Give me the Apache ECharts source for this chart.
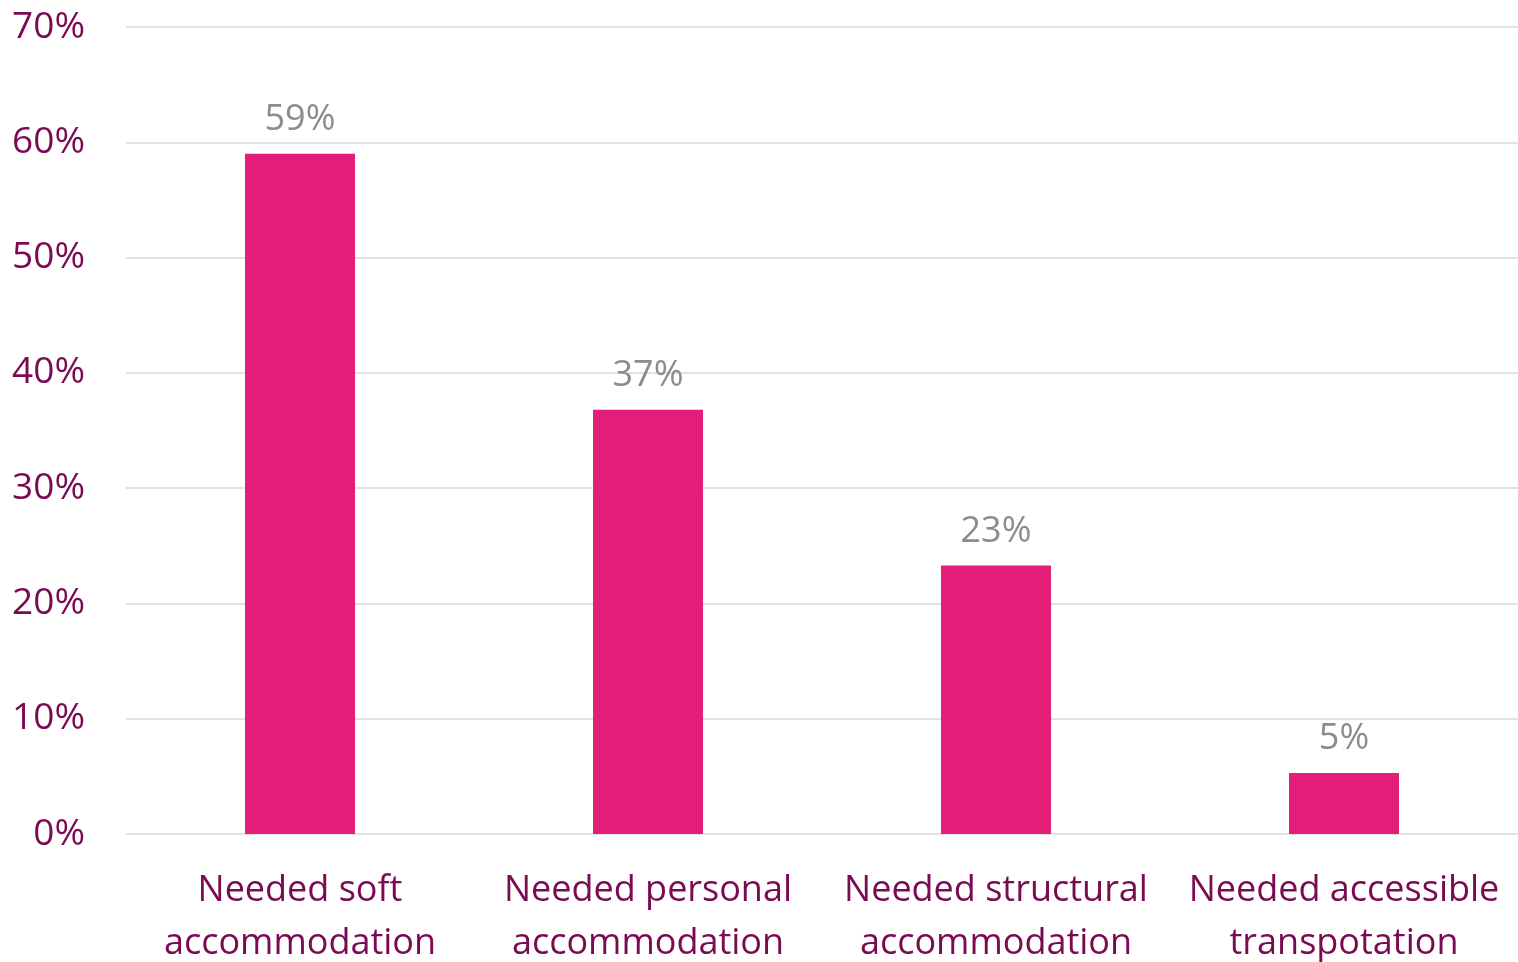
<!DOCTYPE html>
<html>
<head>
<meta charset="utf-8">
<script src="https://cdn.jsdelivr.net/npm/echarts@6/dist/echarts.min.js"></script>
<style>
  html, body { margin: 0; padding: 0; background: #fff; }
  #chart { width: 1518px; height: 962px; }
</style>
</head>
<body>
<div id="chart"></div>
<script>
const categories = [
  'Needed soft\naccommodation',
  'Needed personal\naccommodation',
  'Needed structural\naccommodation',
  'Needed accessible\ntranspotation'
]
const shares = [59, 36.8, 23.3, 5.3]
const yTicks = [0, 10, 20, 30, 40, 50, 60, 70]

const labelColor = '#7A0A52'
const fontFamily = 'Open Sans, Noto Sans, sans-serif'

const myEChart = echarts.init(document.getElementById('chart'))
const option = {
  animation: false,
  grid: {
    left: 126,
    right: 0,
    top: 27,
    bottom: 128,
    containLabel: false,
    outerBoundsMode: 'none'
  },
  xAxis: {
    type: 'category',
    data: categories,
    axisLine: { show: false },
    axisTick: { show: false },
    axisLabel: {
      color: labelColor,
      fontFamily: fontFamily,
      fontSize: 36,
      lineHeight: 53,
      margin: 30,
      interval: 0
    }
  },
  yAxis: {
    type: 'value',
    min: yTicks[0],
    max: yTicks[yTicks.length - 1],
    interval: 10,
    axisLine: { show: false },
    axisTick: { show: false },
    axisLabel: {
      color: labelColor,
      fontFamily: fontFamily,
      fontSize: 37,
      margin: 41,
      formatter: '{value}%'
    },
    splitLine: {
      lineStyle: { color: '#E2E2E2', width: 2 }
    }
  },
  series: [
    {
      type: 'bar',
      data: shares,
      barWidth: 110,
      itemStyle: { color: '#E31E79' },
      label: {
        show: true,
        position: 'top',
        distance: 16,
        color: '#8C8C8C',
        fontFamily: fontFamily,
        fontSize: 36,
        formatter: (p) => Math.round(p.value) + '%'
      }
    }
  ]
}
myEChart.setOption(option)
window.addEventListener('resize', () => {
  myEChart?.resize()
})
</script>
</body>
</html>
